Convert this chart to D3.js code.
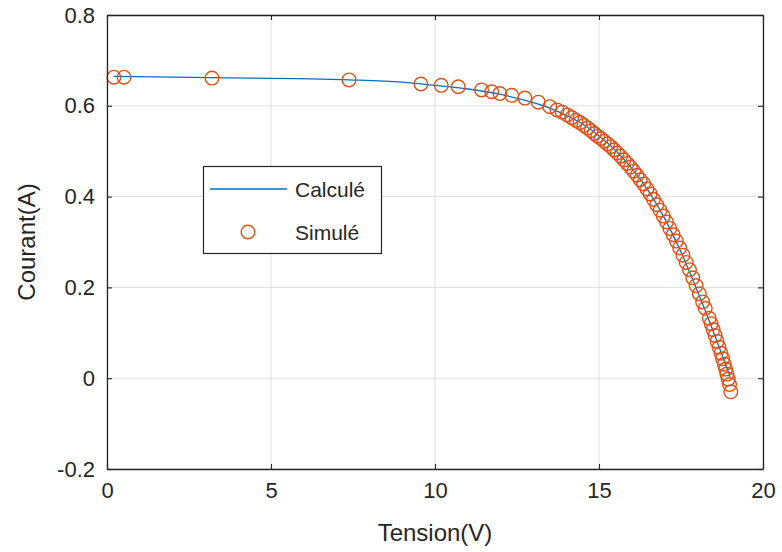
<!DOCTYPE html>
<html><head><meta charset="utf-8">
<script src="https://cdn.jsdelivr.net/npm/d3@7"></script>
<style>body{margin:0;background:#fff}svg{display:block}text{font-family:"Liberation Sans",Arial,sans-serif;fill:#262626}</style>
</head><body><svg id="c" width="782" height="552"></svg>
<script>
// Calculated curve (Tension V, Courant A)
const calcV = [0.2, 3.2, 7.4, 9.0, 10.0, 11.0, 12.0, 13.0, 13.5, 14.0, 14.5, 15.0, 15.5, 16.0, 16.5, 17.0, 17.5, 18.0, 18.5, 19.0];
const calcI = [0.665, 0.662, 0.657, 0.652, 0.645, 0.637, 0.625, 0.607, 0.595, 0.579, 0.560, 0.534, 0.502, 0.462, 0.413, 0.352, 0.278, 0.192, 0.100, 0.003];
// Simulated points
const simV = [0.21, 0.52, 3.2, 7.38, 9.57, 10.19, 10.71, 11.42, 11.73, 11.98, 12.34, 12.74, 13.15, 13.5,
  13.72, 13.88, 14.03, 14.17, 14.30, 14.42, 14.54, 14.65, 14.76, 14.86, 14.96, 15.06, 15.16, 15.26, 15.36, 15.46,
  15.56, 15.66, 15.76, 15.86, 15.96, 16.06, 16.16, 16.26, 16.36, 16.46, 16.56, 16.66, 16.76, 16.86, 16.96, 17.06,
  17.16, 17.26, 17.36, 17.46, 17.56, 17.66, 17.76, 17.86, 17.96, 18.06, 18.16, 18.24,
  18.36, 18.42, 18.48, 18.54, 18.60, 18.66, 18.72, 18.77, 18.82, 18.86, 18.90, 18.94, 18.98, 19.02];
const simI = [0.663, 0.663, 0.661, 0.657, 0.648, 0.645, 0.642, 0.635, 0.631, 0.627, 0.623, 0.617, 0.608, 0.598,
  0.591, 0.586, 0.580, 0.574, 0.568, 0.563, 0.557, 0.551, 0.545, 0.539, 0.533, 0.528, 0.522, 0.516, 0.510, 0.503,
  0.496, 0.489, 0.481, 0.473, 0.465, 0.456, 0.447, 0.437, 0.428, 0.417, 0.406, 0.394, 0.382, 0.370, 0.357, 0.344,
  0.330, 0.316, 0.302, 0.287, 0.271, 0.255, 0.239, 0.221, 0.204, 0.186, 0.168, 0.154,
  0.132, 0.120, 0.107, 0.094, 0.081, 0.068, 0.055, 0.043, 0.031, 0.020, 0.009, -0.002, -0.014, -0.030];
const xTicks = [0, 5, 10, 15, 20];
const xTickLabels = ["0", "5", "10", "15", "20"];
const yTicks = [-0.2, 0, 0.2, 0.4, 0.6, 0.8];
const yTickLabels = ["-0.2", "0", "0.2", "0.4", "0.6", "0.8"];
const seriesNames = ["Calculé", "Simulé"];
const xLabel = "Tension(V)", yLabel = "Courant(A)";

const L = 107, R = 763, T = 15, B = 469;
const x = d3.scaleLinear().domain([0, 20]).range([L, R]);
const y = d3.scaleLinear().domain([-0.2, 0.8]).range([B, T]);
const svg = d3.select("#c");
const axCol = "#262626", blue = "#0072BD", orange = "#D95319";

// grid
const g = svg.append("g");
g.selectAll(".gx").data(xTicks).join("line")
  .attr("x1", d => x(d)).attr("x2", d => x(d)).attr("y1", T).attr("y2", B)
  .attr("stroke", "#dfdfdf").attr("stroke-width", 1);
g.selectAll(".gy").data(yTicks).join("line")
  .attr("y1", d => y(d)).attr("y2", d => y(d)).attr("x1", L).attr("x2", R)
  .attr("stroke", "#dfdfdf").attr("stroke-width", 1);

// calculated line
const pts = calcV.map((v, i) => [v, calcI[i]]);
svg.append("path").datum(pts)
  .attr("d", d3.line().x(d => x(d[0])).y(d => y(d[1])).curve(d3.curveMonotoneX))
  .attr("fill", "none").attr("stroke", blue).attr("stroke-width", 1.3);

// simulated circles
const sp = simV.map((v, i) => [v, simI[i]]);
svg.append("g").selectAll("circle").data(sp).join("circle")
  .attr("cx", d => x(d[0])).attr("cy", d => y(d[1])).attr("r", 6.8)
  .attr("fill", "none").attr("stroke", orange).attr("stroke-width", 1.4);

// axes (box with inward ticks)
const fmtX = d => xTickLabels[xTicks.indexOf(d)];
const fmtY = d => yTickLabels[yTicks.findIndex(t => Math.abs(t - d) < 1e-9)];
function styleAxis(sel) {
  sel.select(".domain").attr("stroke", axCol).attr("stroke-width", 1.3);
  sel.selectAll(".tick line").attr("stroke", axCol).attr("stroke-width", 1.1);
  sel.selectAll("text").style("font-size", "22px").attr("fill", axCol);
}
svg.append("g").attr("transform", `translate(0,${B})`)
  .call(d3.axisBottom(x).tickValues(xTicks).tickFormat(fmtX).tickSizeInner(-5).tickSizeOuter(0).tickPadding(13))
  .call(styleAxis);
svg.append("g").attr("transform", `translate(0,${T})`)
  .call(d3.axisTop(x).tickValues(xTicks).tickFormat("").tickSizeInner(-5).tickSizeOuter(0))
  .call(styleAxis);
svg.append("g").attr("transform", `translate(${L},0)`)
  .call(d3.axisLeft(y).tickValues(yTicks).tickFormat(fmtY).tickSizeInner(-5).tickSizeOuter(0).tickPadding(12))
  .call(styleAxis);
svg.append("g").attr("transform", `translate(${R},0)`)
  .call(d3.axisRight(y).tickValues(yTicks).tickFormat("").tickSizeInner(-5).tickSizeOuter(0))
  .call(styleAxis);

// axis labels
svg.append("text").attr("x", (L + R) / 2).attr("y", 541).attr("text-anchor", "middle")
  .style("font-size", "24px").text(xLabel);
svg.append("text").attr("transform", `translate(35,${(T + B) / 2}) rotate(-90)`).attr("text-anchor", "middle")
  .style("font-size", "24px").text(yLabel);

// legend
const lg = svg.append("g");
lg.append("rect").attr("x", 203.5).attr("y", 166.5).attr("width", 178).attr("height", 87)
  .attr("fill", "#fff").attr("stroke", axCol).attr("stroke-width", 1.2);
lg.append("line").attr("x1", 210).attr("x2", 287).attr("y1", 189).attr("y2", 189)
  .attr("stroke", blue).attr("stroke-width", 1.3);
lg.append("circle").attr("cx", 248).attr("cy", 232).attr("r", 6.8)
  .attr("fill", "none").attr("stroke", orange).attr("stroke-width", 1.4);
lg.append("text").attr("x", 295).attr("y", 197).style("font-size", "21px").text(seriesNames[0]);
lg.append("text").attr("x", 295).attr("y", 240).style("font-size", "21px").text(seriesNames[1]);
</script></body></html>
